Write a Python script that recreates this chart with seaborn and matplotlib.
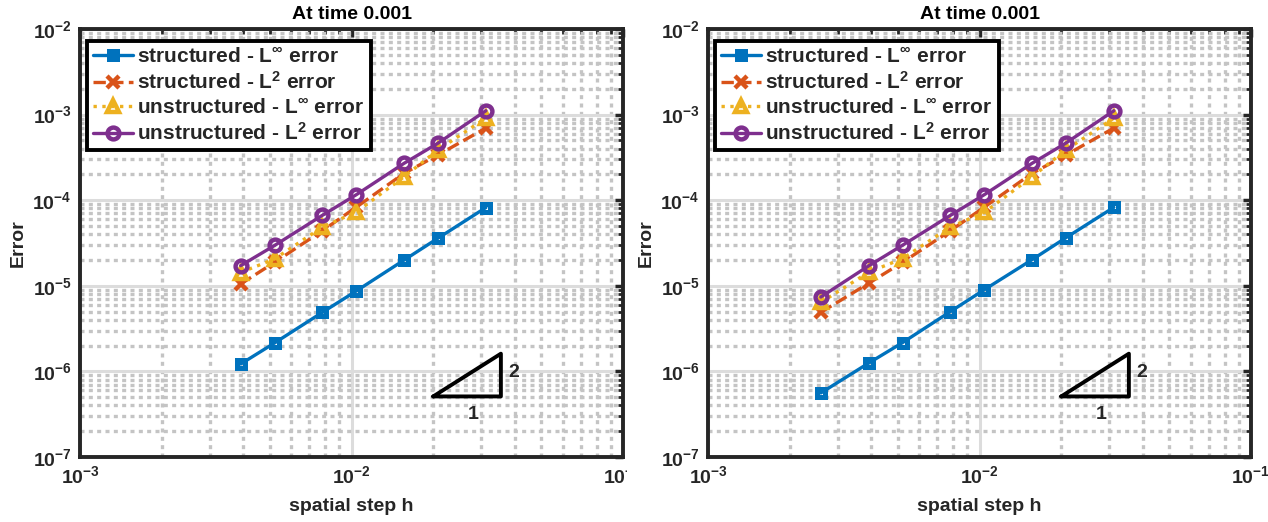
import numpy as np
import pandas as pd
import matplotlib
matplotlib.use("Agg")
import matplotlib.pyplot as plt
import seaborn as sns
from matplotlib.ticker import LogLocator, FuncFormatter, NullFormatter
from matplotlib.patches import Rectangle

# ---------------- data ----------------
h_left = [1/256, 1/192, 1/128, 1/96, 1/64, 1/48, 1/32]
h_right = [1/384, 1/256, 1/192, 1/128, 1/96, 1/64, 1/48, 1/32]

struct_linf_left = [1.22e-6, 2.15e-6, 4.9e-6, 8.7e-6, 2.0e-5, 3.6e-5, 8.2e-5]
struct_l2_left = [1.05e-5, 1.88e-5, 4.4e-5, 8.3e-5, 2.06e-4, 3.38e-4, 6.96e-4]
unstruct_linf_left = [1.43e-5, 2.06e-5, 4.85e-5, 7.28e-5, 1.88e-4, 3.87e-4, 9.1e-4]
unstruct_l2_left = [1.72e-5, 2.96e-5, 6.66e-5, 1.16e-4, 2.70e-4, 4.64e-4, 1.11e-3]

struct_linf_right = [5.6e-7, 1.25e-6, 2.17e-6, 5.0e-6, 9.0e-6, 2.02e-5, 3.65e-5, 8.25e-5]
struct_l2_right = [4.9e-6, 1.07e-5, 1.88e-5, 4.4e-5, 8.3e-5, 2.06e-4, 3.38e-4, 6.96e-4]
unstruct_linf_right = [6.4e-6, 1.44e-5, 2.08e-5, 4.87e-5, 7.2e-5, 1.88e-4, 3.87e-4, 9.1e-4]
unstruct_l2_right = [7.4e-6, 1.71e-5, 2.98e-5, 6.65e-5, 1.16e-4, 2.70e-4, 4.66e-4, 1.11e-3]

series_names = [r"structured - $\mathbf{L^{\infty}}$ error",
                r"structured - $\mathbf{L^{2}}$ error",
                r"unstructured - $\mathbf{L^{\infty}}$ error",
                r"unstructured - $\mathbf{L^{2}}$ error"]

# slope-2 reference triangle
tri_x = [0.02, 0.0355, 0.0355, 0.02]
tri_y = [5.1e-7, 5.1e-7, 1.61e-6, 5.1e-7]
tri_label_2 = (0.0395, 9.6e-7)
tri_label_1 = (0.028, 3.1e-7)

title_text = "At time 0.001"

# ---------------- style ----------------
sns.set_theme(style="white")
plt.rcParams["font.family"] = ["Liberation Sans", "DejaVu Sans"]
plt.rcParams["font.weight"] = "bold"
plt.rcParams["mathtext.fontset"] = "custom"
plt.rcParams["mathtext.rm"] = "Liberation Sans:bold"
plt.rcParams["mathtext.bf"] = "Liberation Sans:bold"
plt.rcParams["mathtext.it"] = "Liberation Sans:bold"
plt.rcParams["mathtext.default"] = "bf"

colors = ["#0072BD", "#D95319", "#EDB120", "#7E2F8E"]
markers = ["s", "x", "^", "o"]
msizes = [5.5, 8.5, 8.5, 8.5]
mews = [3.6, 3.2, 3.2, 3.2]
styles = ["-", "--", ":", "-"]
FS = 14
LFS = 15

fig = plt.figure(figsize=(12.68, 5.22), dpi=100)
ax_l = fig.add_axes([80/1268, 1-457/522, 543/1268, 428/522])
ax_r = fig.add_axes([708/1268, 1-457/522, 543/1268, 428/522])


def fmt(v, pos):
    e = int(round(np.log10(v)))
    return r"$\mathbf{10^{%d}}$" % e


def draw(ax, h, vals):
    for i, (name, y) in enumerate(zip(series_names, vals)):
        df = pd.DataFrame({"h": h, "err": y})
        sns.lineplot(data=df, x="h", y="err", ax=ax, color=colors[i],
                     linestyle=styles[i], linewidth=2.4, marker=markers[i],
                     markersize=msizes[i], markerfacecolor="none",
                     markeredgecolor=colors[i], markeredgewidth=mews[i],
                     label=name, zorder=3 + i)
    ax.set_xscale("log")
    ax.set_yscale("log")
    ax.set_xlim(1e-3, 1e-1)
    ax.set_ylim(1e-7, 1e-2)
    ax.set_axisbelow(True)
    ax.xaxis.set_major_locator(LogLocator(base=10, numticks=10))
    ax.yaxis.set_major_locator(LogLocator(base=10, numticks=10))
    ax.xaxis.set_minor_locator(LogLocator(base=10, subs=np.arange(2, 10), numticks=20))
    ax.yaxis.set_minor_locator(LogLocator(base=10, subs=np.arange(2, 10), numticks=20))
    ax.xaxis.set_major_formatter(FuncFormatter(fmt))
    ax.yaxis.set_major_formatter(FuncFormatter(fmt))
    ax.xaxis.set_minor_formatter(NullFormatter())
    ax.yaxis.set_minor_formatter(NullFormatter())
    ax.grid(which="major", color="#dcdcdc", linestyle="-", linewidth=2.2)
    ax.grid(which="minor", color="#c4c4c4", linestyle=(0, (1.2, 1.3)), linewidth=2.4)
    ax.tick_params(which="both", direction="in", top=True, right=True,
                   labelsize=FS, colors="#262626", pad=6)
    ax.tick_params(which="major", length=6, width=2.5)
    ax.tick_params(which="minor", length=3.5, width=2.0)
    for sp in ax.spines.values():
        sp.set_linewidth(2.8)
        sp.set_color("#262626")
        sp.set_visible(True)
    ax.set_title(title_text, fontsize=FS, fontweight="bold", pad=7, color="#000000")
    ax.set_xlabel("spatial step h", fontsize=FS, fontweight="bold", color="#262626", labelpad=8)
    ax.set_ylabel("Error", fontsize=FS, fontweight="bold", color="#262626", labelpad=4)
    ax.plot(tri_x, tri_y, color="black", linewidth=2.8, zorder=8)
    ax.text(*tri_label_2, "2", fontsize=FS, fontweight="bold", ha="center", va="center")
    ax.text(*tri_label_1, "1", fontsize=FS, fontweight="bold", ha="center", va="center")
    leg = ax.legend(loc="upper left", bbox_to_anchor=(0.013, 0.973), borderaxespad=0,
                    fontsize=LFS, frameon=True, fancybox=False, framealpha=1,
                    edgecolor="black", handlelength=1.9, handletextpad=0.2,
                    labelspacing=0.25, borderpad=0.3, numpoints=1)
    leg.get_frame().set_linewidth(2.8)
    leg.set_zorder(20)


draw(ax_l, h_left, [struct_linf_left, struct_l2_left, unstruct_linf_left, unstruct_l2_left])
draw(ax_r, h_right, [struct_linf_right, struct_l2_right, unstruct_linf_right, unstruct_l2_right])

# the original composite crops the left panel's last tick label
fig.patches.append(Rectangle((627/1268, 1-492/522), 22/1268, 34/522, transform=fig.transFigure,
                             facecolor="white", edgecolor="none", zorder=30))

fig.savefig("out.png", dpi=100)
